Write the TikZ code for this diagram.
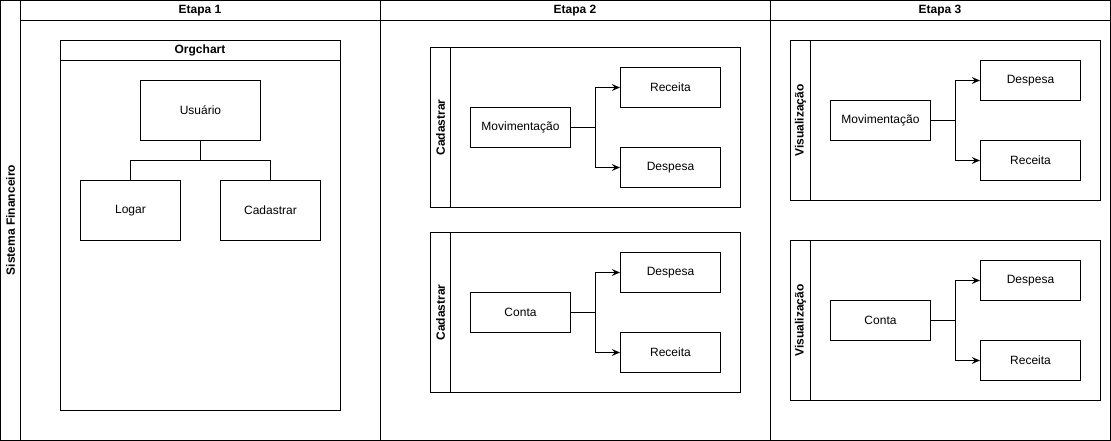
\documentclass[tikz,border=0pt]{standalone}
\usepackage{fontspec}
\setmainfont{Liberation Sans}
\usetikzlibrary{arrows.meta, positioning}

\begin{document}
\begin{tikzpicture}[x=0.75pt, y=-0.75pt, line width=0.75pt, font=\fontsize{9}{11}\selectfont,
  box/.style={draw, rectangle, minimum width=75pt, minimum height=30pt, inner sep=0pt},
  bigbox/.style={box, minimum height=45pt},
  title/.style={font=\fontsize{9}{11}\selectfont\bfseries, inner sep=0pt},
  arr/.style={-{Stealth[length=6pt, width=5pt]}},
  every path/.style={line join=miter}]
  \useasboundingbox (0,0) rectangle (1111,441);

  % pool and lanes
  \draw (0.5,0.5) rectangle (1110.5,440.5);
  \draw (20.5,0.5) -- (20.5,440.5);
  \draw (20.5,20.5) -- (1110.5,20.5);
  \draw (380.5,0.5) -- (380.5,440.5);
  \draw (770.5,0.5) -- (770.5,440.5);
  \node[title, rotate=90] (sis) at (10.5,220) {Sistema Financeiro};
  \node[title] (et1) at (200,10.5) {Etapa 1};
  \node[title] (et2) at (575,10.5) {Etapa 2};
  \node[title] (et3) at (940,10.5) {Etapa 3};

  % Etapa 1
  \draw (60.5,40.5) rectangle (340.5,410.5);
  \draw (60.5,60.5) -- (340.5,60.5);
  \node[title] (org) at (200,50.5) {Orgchart};
  \node[bigbox, minimum width=90pt] (usr) at (200.5,110.5) {Usuário};
  \node[bigbox] (log) at (130.5,210.5) {Logar};
  \node[bigbox] (cad) at (270.5,210.5) {Cadastrar};
  \draw (usr.south) -- ++(0,20) -| (log.north);
  \draw (usr.south) -- ++(0,20) -| (cad.north);

  % Etapa 2
  \draw (430.5,47.5) rectangle (740.5,207.5);
  \draw (450.5,47.5) -- (450.5,207.5);
  \node[title, rotate=90] (cad1) at (440.5,127.5) {Cadastrar};
  \node[box] (mov1) at (520.5,127.5) {Movimentação};
  \node[box] (rec1) at (670.5,87.5) {Receita};
  \node[box] (des1) at (670.5,167.5) {Despesa};
  \draw[arr] (mov1.east) -- ++(24,0) |- (rec1.west);
  \draw[arr] (mov1.east) -- ++(24,0) |- (des1.west);

  \draw (430.5,232.5) rectangle (740.5,392.5);
  \draw (450.5,232.5) -- (450.5,392.5);
  \node[title, rotate=90] (cad2) at (440.5,312.5) {Cadastrar};
  \node[box] (con1) at (520.5,312.5) {Conta};
  \node[box] (des2) at (670.5,272.5) {Despesa};
  \node[box] (rec2) at (670.5,352.5) {Receita};
  \draw[arr] (con1.east) -- ++(24,0) |- (des2.west);
  \draw[arr] (con1.east) -- ++(24,0) |- (rec2.west);

  % Etapa 3
  \draw (790.5,40.5) rectangle (1100.5,200.5);
  \draw (810.5,40.5) -- (810.5,200.5);
  \node[title, rotate=90] (vis1) at (800.5,120.5) {Visualização};
  \node[box] (mov2) at (880.5,120.5) {Movimentação};
  \node[box] (des3) at (1030.5,80.5) {Despesa};
  \node[box] (rec3) at (1030.5,160.5) {Receita};
  \draw[arr] (mov2.east) -- ++(24,0) |- (des3.west);
  \draw[arr] (mov2.east) -- ++(24,0) |- (rec3.west);

  \draw (790.5,240.5) rectangle (1100.5,400.5);
  \draw (810.5,240.5) -- (810.5,400.5);
  \node[title, rotate=90] (vis2) at (800.5,320.5) {Visualização};
  \node[box] (con2) at (880.5,320.5) {Conta};
  \node[box] (des4) at (1030.5,280.5) {Despesa};
  \node[box] (rec4) at (1030.5,360.5) {Receita};
  \draw[arr] (con2.east) -- ++(24,0) |- (des4.west);
  \draw[arr] (con2.east) -- ++(24,0) |- (rec4.west);
\end{tikzpicture}
\end{document}
